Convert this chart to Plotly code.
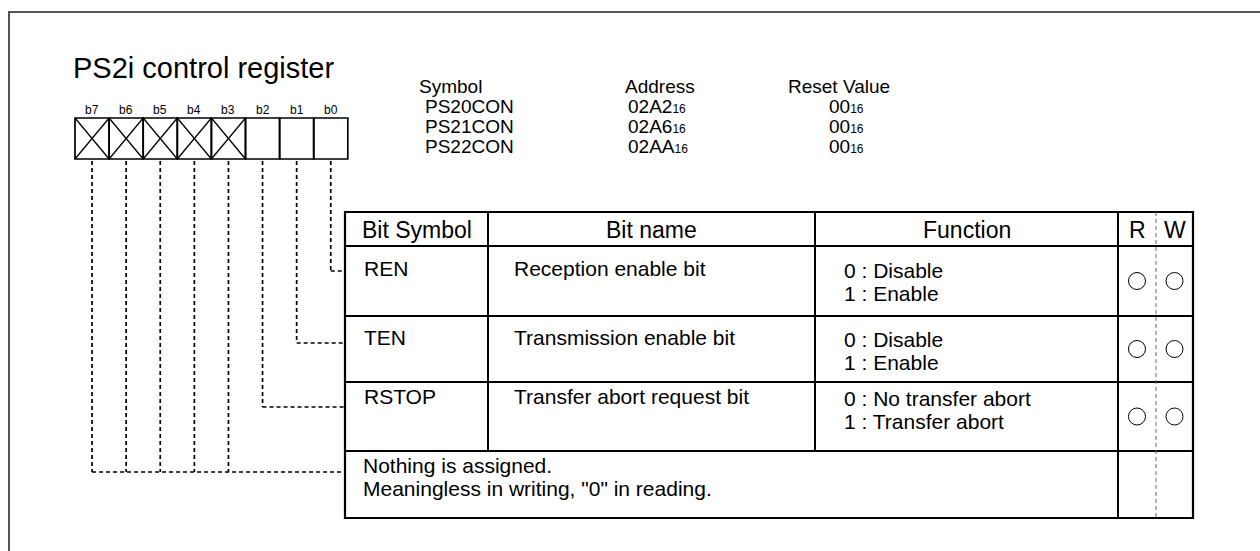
import plotly.graph_objects as go

# ---------------- data ----------------
TITLE = "PS2i control register"
BIT_LABELS = ["b7", "b6", "b5", "b4", "b3", "b2", "b1", "b0"]
BIT_RESERVED = [True, True, True, True, True, False, False, False]

REG_HEADERS = ["Symbol", "Address", "Reset Value"]
REG_SYMBOLS = ["PS20CON", "PS21CON", "PS22CON"]
REG_ADDRESSES = ["02A2", "02A6", "02AA"]
REG_RESETS = ["00", "00", "00"]
RADIX = "16"

HEADERS = ["Bit Symbol", "Bit name", "Function", "R", "W"]
ROW_SYMBOLS = ["REN", "TEN", "RSTOP"]
ROW_NAMES = ["Reception enable bit", "Transmission enable bit", "Transfer abort request bit"]
ROW_FUNCS = [["0 : Disable", "1 : Enable"],
             ["0 : Disable", "1 : Enable"],
             ["0 : No transfer abort", "1 : Transfer abort"]]
ROW_R = [True, True, True]
ROW_W = [True, True, True]
ROW_BITS = [[0], [1], [2], [7, 6, 5, 4, 3]]
NOTE = ["Nothing is assigned.", 'Meaningless in writing, "0" in reading.']

# ---------------- geometry ----------------
W, H = 1260, 551
FONT = "Liberation Sans, Arial, Helvetica, sans-serif"
BOX_X0, CELL_W, BOX_Y0, BOX_Y1 = 75, 34.1, 118, 159
TX = [345, 488, 815, 1118, 1156, 1193]        # table column edges
TY = [212, 246, 316, 382, 451, 518]           # table row edges
LEAD_Y = [271, 343, 407, 472]                 # leader line levels
TEXT_Y = [268, 337, 396, 465]                 # first text line in each row
LINE_GAP = 23

shapes = []
annots = []


def line(x0, y0, x1, y1, w=1.5, color="black", dash=None):
    d = dict(type="line", x0=x0, y0=y0, x1=x1, y1=y1, xref="x", yref="y",
             line=dict(color=color, width=w))
    if dash:
        d["line"]["dash"] = dash
    shapes.append(d)


def text(x, y, s, size, anchor="left"):
    annots.append(dict(x=x, y=y, xref="x", yref="y", text=s, showarrow=False,
                       xanchor=anchor, yanchor="middle",
                       font=dict(family=FONT, size=size, color="black")))


# outer frame
shapes.append(dict(type="path", path=f"M 9 {H} L 9 12 L {W} 12",
                   line=dict(color="#555555", width=2)))

# title
text(71, 68, TITLE, 29)

# register info block
text(417, 86, REG_HEADERS[0], 19)
text(660, 86, REG_HEADERS[1], 19, "center")
text(839, 86, REG_HEADERS[2], 19, "center")
for i in range(len(REG_SYMBOLS)):
    y = 106 + 20 * i
    text(423, y, REG_SYMBOLS[i], 19)
    text(626, y, REG_ADDRESSES[i] + f'<span style="font-size:12px">{RADIX}</span>', 19)
    text(827, y, REG_RESETS[i] + f'<span style="font-size:12px">{RADIX}</span>', 19)

# bit boxes
def cell_cx(bitno):
    idx = BIT_LABELS.index(f"b{bitno}")
    return BOX_X0 + CELL_W * (idx + 0.5)

for i, lab in enumerate(BIT_LABELS):
    x0 = BOX_X0 + CELL_W * i
    x1 = x0 + CELL_W
    shapes.append(dict(type="rect", x0=x0, y0=BOX_Y0, x1=x1, y1=BOX_Y1,
                       line=dict(color="black", width=1.7)))
    if BIT_RESERVED[i]:
        line(x0, BOX_Y0, x1, BOX_Y1, 1.3)
        line(x0, BOX_Y1, x1, BOX_Y0, 1.3)
    text((x0 + x1) / 2, 110, lab, 12, "center")

# leader lines
for r, bits in enumerate(ROW_BITS):
    ly = LEAD_Y[r]
    xs = [cell_cx(b) for b in bits]
    for cx in xs:
        line(cx, BOX_Y1 + 2, cx, ly, 1.7, dash="4px,3px")
    line(min(xs), ly, TX[0], ly, 1.7, dash="4px,3px")

# table frame
shapes.append(dict(type="rect", x0=TX[0], y0=TY[0], x1=TX[5], y1=TY[5],
                   line=dict(color="black", width=2.2)))
for y in TY[1:5]:
    line(TX[0], y, TX[5], y, 2)
for x in TX[1:3]:
    line(x, TY[0], x, TY[4], 2)
line(TX[3], TY[0], TX[3], TY[5], 2)
line(TX[4], TY[0], TX[4], TY[5], 1, color="#666666", dash="4px,3px")

# header texts
hy = (TY[0] + TY[1]) / 2
for k, h in enumerate(HEADERS):
    cx = (TX[k] + TX[k + 1]) / 2
    text(cx, hy + 1, h, 23, "center")

# rows
rx = []
ry = []
wx = []
wy = []
for r in range(len(ROW_SYMBOLS)):
    y = TEXT_Y[r]
    text(362, y, ROW_SYMBOLS[r], 21)
    text(512, y, ROW_NAMES[r], 21)
    for j, f in enumerate(ROW_FUNCS[r]):
        text(842, y + 2 + LINE_GAP * j, f, 21)
    cy = (TY[r + 1] + TY[r + 2]) / 2
    if ROW_R[r]:
        rx.append((TX[3] + TX[4]) / 2)
        ry.append(cy)
    if ROW_W[r]:
        wx.append((TX[4] + TX[5]) / 2)
        wy.append(cy)

for j, s in enumerate(NOTE):
    text(361, TEXT_Y[3] + LINE_GAP * j, s, 21)

fig = go.Figure()
fig.add_trace(go.Scatter(x=rx + wx, y=ry + wy, mode="markers",
                         marker=dict(symbol="circle-open", size=17,
                                     color="black", line=dict(width=1)),
                         hoverinfo="skip", showlegend=False))

fig.update_layout(
    width=W, height=H, margin=dict(l=0, r=0, t=0, b=0),
    paper_bgcolor="white", plot_bgcolor="white",
    xaxis=dict(range=[0, W], visible=False, fixedrange=True),
    yaxis=dict(range=[H, 0], visible=False, fixedrange=True),
    shapes=shapes, annotations=annots, showlegend=False,
)

fig.write_html("out.html", config={"displayModeBar": False},
               post_script="document.body.style.margin='0';document.body.style.overflow='hidden';")
